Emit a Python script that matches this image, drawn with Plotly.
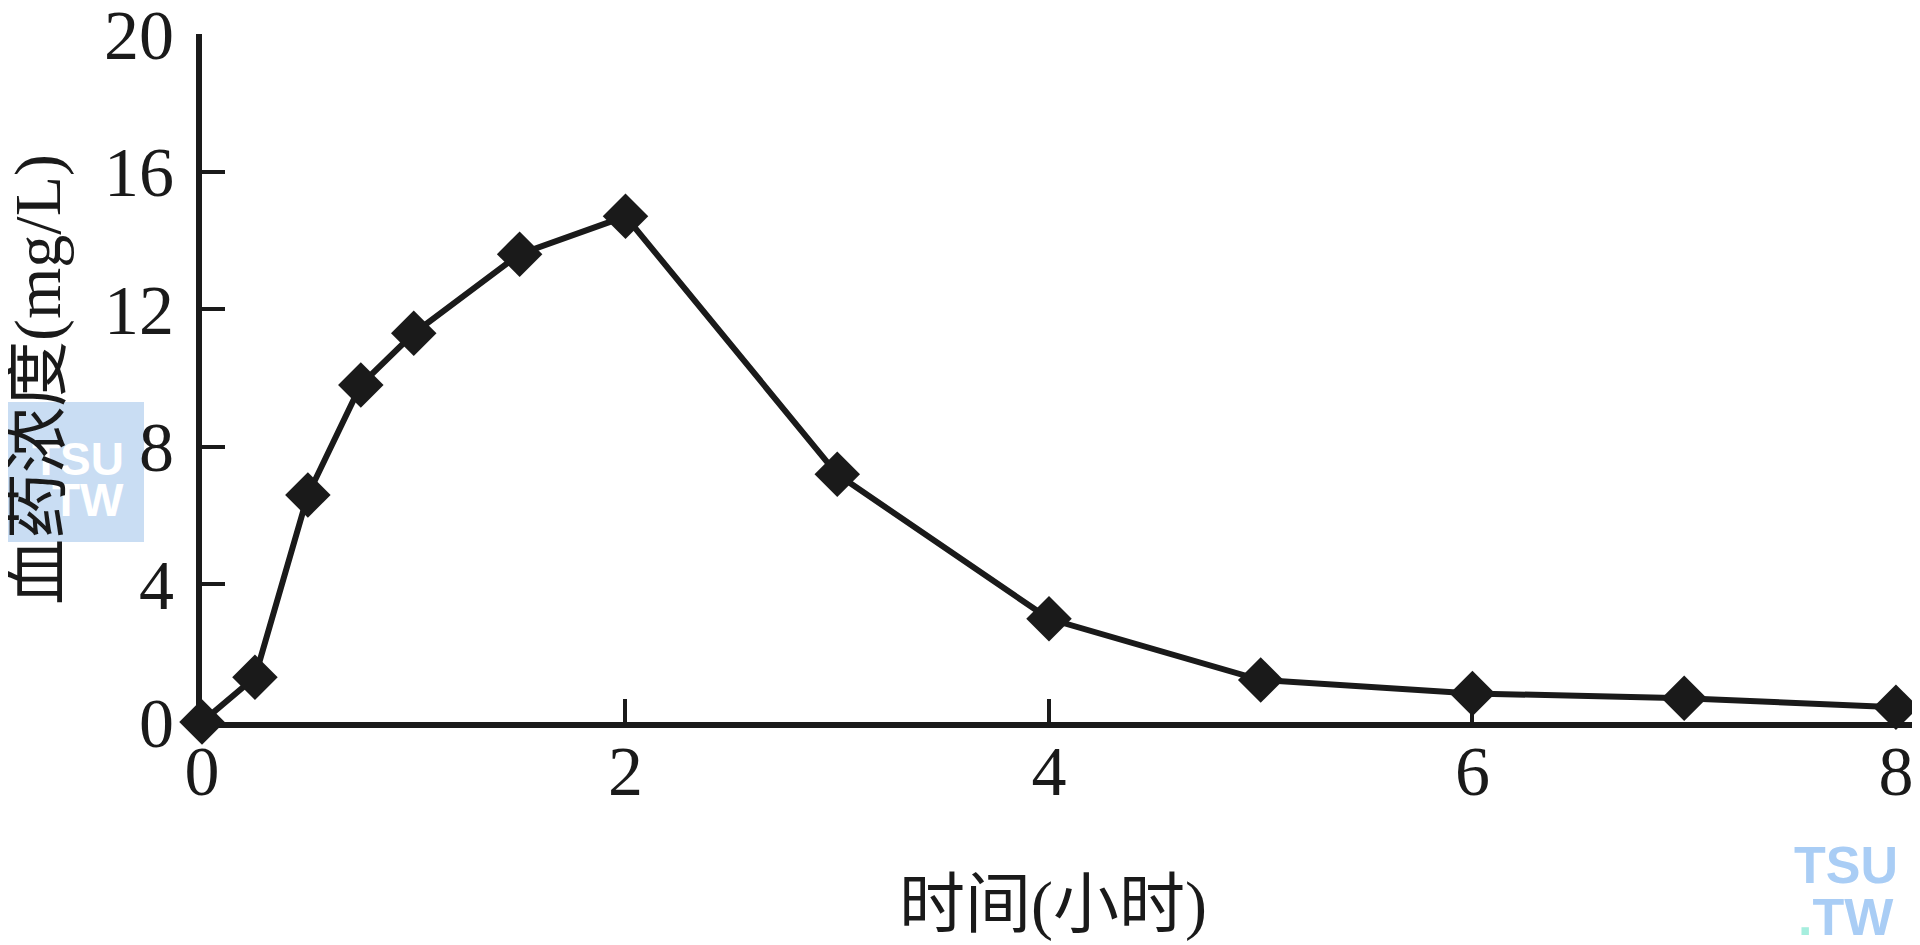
import plotly.graph_objects as go

time_h = [0, 0.25, 0.5, 0.75, 1, 1.5, 2, 3, 4, 5, 6, 7, 8]
conc = [0, 1.3, 6.6, 9.8, 11.3, 13.6, 14.7, 7.2, 3.0, 1.22, 0.83, 0.69, 0.43]
x_ticks = [0, 2, 4, 6, 8]
y_ticks = [0, 4, 8, 12, 16, 20]
x_title = "时间(小时)"
y_title = "血药浓度(mg/L)"

INK = "#1a1a1a"
SERIF = "Liberation Serif, Times New Roman, serif"
TITLE_FONT = "Liberation Serif, Noto Sans CJK SC, serif"

# page body has an 8px margin: figure origin sits at screen (8, 8)
OFF = 8
W, H = 1912, 937
PX0, PX1 = 202, 1915   # plot area in screen px
PY0, PY1 = 34, 722
L, R = PX0 - OFF, W - (PX1 - OFF)
T, B = PY0 - OFF, H - (PY1 - OFF)


def xp(sx):
    return (sx - PX0) / (PX1 - PX0)


def yp(sy):
    return (PY1 - sy) / (PY1 - PY0)


fig = go.Figure()
fig.add_trace(go.Scatter(
    x=time_h, y=conc, mode="lines+markers",
    line=dict(color=INK, width=6),
    marker=dict(symbol="diamond", size=35, color=INK),
    cliponaxis=False, showlegend=False,
))

fig.update_layout(
    width=W, height=H,
    margin=dict(l=L, r=R, t=T, b=B, autoexpand=False),
    paper_bgcolor="white", plot_bgcolor="rgba(0,0,0,0)",
    xaxis=dict(range=[0, 8.09], tickvals=x_ticks, ticks="inside", ticklen=23,
               tickwidth=4, tickcolor=INK, showline=True, linecolor=INK, linewidth=6,
               showgrid=False, zeroline=False, ticklabelstandoff=-17,
               ticklabeloverflow="allow", automargin=False,
               tickfont=dict(family=SERIF, size=70, color=INK)),
    yaxis=dict(range=[0, 20.0001], tickvals=y_ticks, ticks="inside", ticklen=23,
               tickwidth=4, tickcolor=INK, showline=True, linecolor=INK, linewidth=6,
               showgrid=False, zeroline=False, ticklabelstandoff=8,
               ticklabeloverflow="allow", automargin=False,
               tickfont=dict(family=SERIF, size=70, color=INK)),
)

# watermark boxes / text
fig.add_shape(type="rect", xref="paper", yref="paper",
              x0=xp(6), x1=xp(144), y0=yp(542), y1=yp(402),
              fillcolor="#c9ddf3", line=dict(width=0), layer="below")
fig.add_annotation(xref="paper", yref="paper", x=xp(78), y=yp(459),
                   text="<b>TSU</b>", showarrow=False, xanchor="center", yanchor="middle",
                   font=dict(family="Liberation Sans, Arial", size=46, color="white"))
fig.add_annotation(xref="paper", yref="paper", x=xp(88), y=yp(500),
                   text="<b>TW</b>", showarrow=False, xanchor="center", yanchor="middle",
                   font=dict(family="Liberation Sans, Arial", size=46, color="white"))
fig.add_annotation(xref="paper", yref="paper", x=xp(1846), y=yp(865),
                   text="<b>TSU</b>", showarrow=False, xanchor="center", yanchor="middle",
                   font=dict(family="Liberation Sans, Arial", size=52, color="#a9cdf5"))
fig.add_annotation(xref="paper", yref="paper", x=xp(1846), y=yp(917),
                   text="<b><span style='color:#a6eede'>.</span>TW</b>", showarrow=False,
                   xanchor="center", yanchor="middle",
                   font=dict(family="Liberation Sans, Arial", size=52, color="#a9cdf5"))

# axis titles
fig.add_annotation(xref="paper", yref="paper", x=xp(38), y=yp(380),
                   text=y_title, textangle=-90, showarrow=False,
                   xanchor="center", yanchor="middle",
                   font=dict(family=TITLE_FONT, size=66, color=INK))
fig.add_annotation(xref="paper", yref="paper", x=xp(1053), y=yp(905),
                   text=x_title, showarrow=False, xanchor="center", yanchor="middle",
                   font=dict(family=TITLE_FONT, size=66, color=INK))

fig.write_html("out.html")
